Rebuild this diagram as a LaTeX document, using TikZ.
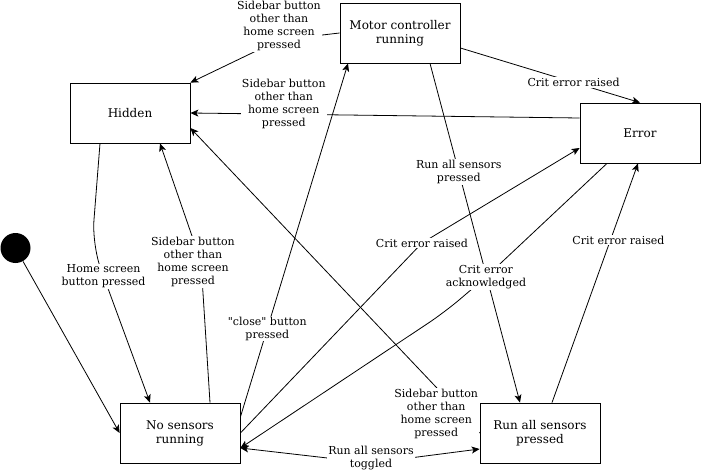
\documentclass[tikz,border=0pt]{standalone}
\usepackage{fontspec}
\setmainfont{DejaVu Serif}
\usetikzlibrary{arrows.meta}

\begin{document}
\begin{tikzpicture}[x=1pt, y=-1pt, line width=0.8pt,
  >={Stealth[length=8pt,width=7pt,inset=2pt]},
  state/.style={draw, minimum width=120pt, minimum height=60pt, align=center, inner sep=2pt, font=\fontsize{12}{14}\selectfont},
  lbl/.style={fill=white, align=center, inner sep=1pt, font=\fontsize{11}{13}\selectfont}]
  \useasboundingbox (0,0) rectangle (701,473);

  \node[circle, fill, minimum size=30pt, inner sep=0pt] (init) at (15.5,248) {};
  \node[state] (hid) at (130,113) {Hidden};
  \node[state] (mot) at (400,33) {Motor controller\\running};
  \node[state] (err) at (640,133) {Error};
  \node[state] (nos) at (180,433) {No sensors\\running};
  \node[state] (ras) at (540,433) {Run all sensors\\pressed};

  % bends of the connectors
  \coordinate (w2) at (92,245);
  \coordinate (w3) at (201,262);
  \coordinate (w5) at (279,40);
  \coordinate (w9) at (422,243);
  \coordinate (w10) at (486,277);
  \coordinate (w10b) at (445,312);
  \coordinate (w13) at (371,463);

  \draw[->] (init) -- (nos.west);
  \draw[->, rounded corners=25pt] ([xshift=-30pt]hid.south) -- (w2) -- ([xshift=-30pt]nos.north)
    node[lbl, pos=0.2] {Home screen\\button pressed};
  \draw[->] ([xshift=30pt]nos.north) -- (w3) node[lbl, xshift=-8pt] {Sidebar button\\other than\\home screen\\pressed} -- ([xshift=30pt]hid.south);
  \draw[->] ([yshift=16pt]nos.east) -- ([xshift=-52pt]mot.south)
    node[lbl, pos=0.25] {\textquotedbl close\textquotedbl\ button\\pressed};
  \draw[->] (mot.west) -- (w5) node[lbl, yshift=14pt] {Sidebar button\\other than\\home screen\\pressed} -- (hid.north east);
  \draw[->] ([yshift=15pt]err.west) -- (hid.east)
    node[lbl, pos=0.76, yshift=10pt] {Sidebar button\\other than\\home screen\\pressed};
  \draw[->] ([yshift=-15pt]mot.east) -- (err.north)
    node[lbl, pos=0.63] {Crit error raised};
  \draw[->] ([xshift=30pt]mot.south) -- ([xshift=-20pt]ras.north)
    node[lbl, pos=0.32] {Run all sensors\\pressed};
  \draw[->] (nos.east) -- (w9) node[lbl] {Crit error raised} -- ([yshift=-15pt]err.west);
  \draw[->, rounded corners=20pt] ([xshift=-33pt]err.south) -- (w10) node[lbl] {Crit error\\acknowledged} -- (w10b) -- ([yshift=-15pt]nos.east);
  \draw[->] ([xshift=12pt]ras.north) -- ([xshift=-2pt]err.south)
    node[lbl, pos=0.68, xshift=8pt] {Crit error raised};
  \draw[->] (ras.west) -- ([yshift=-15pt]hid.east)
    node[lbl, pos=0.15, anchor=north] {Sidebar button\\other than\\home screen\\pressed};
  \draw[<->] ([yshift=-15pt]nos.east) -- (w13) node[lbl, yshift=5pt] {Run all sensors\\toggled} -- ([yshift=-16pt]ras.west);
\end{tikzpicture}
\end{document}
